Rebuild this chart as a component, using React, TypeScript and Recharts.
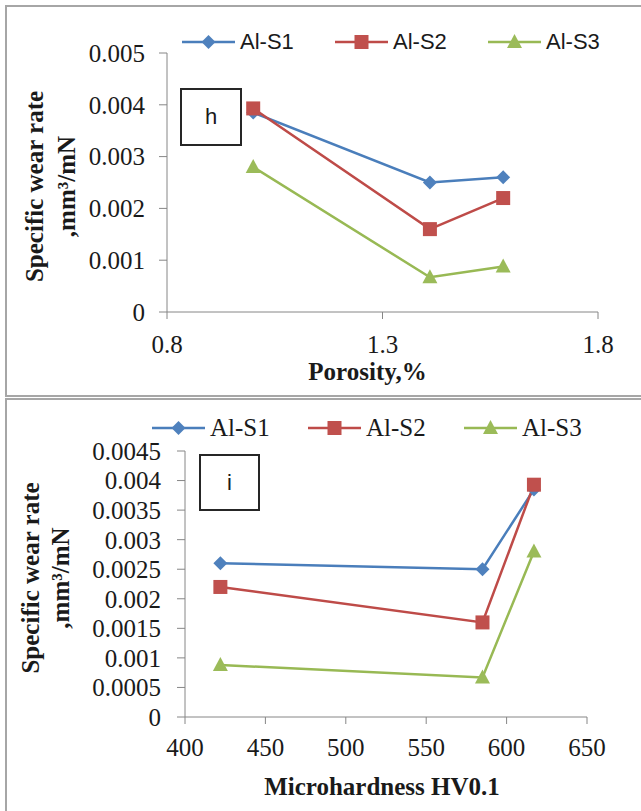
import { LineChart, Line, XAxis, YAxis, Legend } from "recharts"

// values (same three samples in both)
const porosity = [1.0, 1.41, 1.58]
const hardness = [617, 585, 422]
const alS1 = [0.00385, 0.0025, 0.0026]
const alS2 = [0.00393, 0.0016, 0.0022]
const alS3 = [0.0028, 0.00067, 0.00088]

const porosityTicks = [0.8, 1.3, 1.8]
const hardnessTicks = [400, 450, 500, 550, 600, 650]
const rateTicksTop = [0, 0.001, 0.002, 0.003, 0.004, 0.005]
const rateTicksBottom = [0, 0.0005, 0.001, 0.0015, 0.002, 0.0025, 0.003, 0.0035, 0.004, 0.0045]

const series = [
  { key: "s1", name: "Al-S1", line: "#4A7EBB", fill: "#4F81BD", shape: "diamond" },
  { key: "s2", name: "Al-S2", line: "#BE4B48", fill: "#C0504D", shape: "square" },
  { key: "s3", name: "Al-S3", line: "#98B954", fill: "#9BBB59", shape: "triangle" },
]

const topData = porosity.map((x, i) => ({ x, s1: alS1[i], s2: alS2[i], s3: alS3[i] }))
const bottomData = hardness.map((x, i) => ({ x, s1: alS1[i], s2: alS2[i], s3: alS3[i] }))

const SERIF = "Liberation Serif"
const SANS = "Liberation Sans"
const TEXT = "#1a1a1a"
const AXIS = "#868686"

function Marker({ shape, cx, cy, fill }: any) {
  if (cx == null || cy == null) return null
  if (shape === "diamond") {
    return <path d={`M${cx},${cy - 7}L${cx + 7},${cy}L${cx},${cy + 7}L${cx - 7},${cy}Z`} fill={fill} />
  }
  if (shape === "square") {
    return <rect x={cx - 7} y={cy - 7} width={14} height={14} fill={fill} />
  }
  return <path d={`M${cx},${cy - 8}L${cx + 7.5},${cy + 6}L${cx - 7.5},${cy + 6}Z`} fill={fill} />
}

function ChartLegend({ payload, left, step, height, font, size }: any) {
  return (
    <div style={{ position: "relative", height, width: 641 }}>
      {(payload || []).map((entry: any, i: number) => {
        const s = series.find((it) => it.key === entry.dataKey) || series[i]
        return (
          <div
            key={s.key}
            style={{
              position: "absolute",
              left: left + i * step,
              top: 0,
              height: 24,
              display: "flex",
              alignItems: "center",
              whiteSpace: "nowrap",
            }}
          >
            <svg width={53} height={24} style={{ marginRight: 5 }}>
              <line x1={0} y1={12} x2={53} y2={12} stroke={s.line} strokeWidth={2.5} />
              <Marker shape={s.shape} cx={26.5} cy={12} fill={s.fill} />
            </svg>
            <span style={{ fontFamily: font, fontSize: size, color: TEXT, lineHeight: "24px" }}>{entry.value}</span>
          </div>
        )
      })}
    </div>
  )
}

function RateTitle({ viewBox, x1, x2, dy }: any) {
  const cy = viewBox.y + viewBox.height / 2 + dy
  const style = { fontFamily: SERIF, fontWeight: "bold" as const, fontSize: 25, fill: TEXT }
  return (
    <g>
      <text x={x1} y={cy} transform={`rotate(-90, ${x1}, ${cy})`} textAnchor="middle" style={style}>
        Specific wear rate
      </text>
      <text x={x2} y={cy} transform={`rotate(-90, ${x2}, ${cy})`} textAnchor="middle" style={style}>
        ,mm³/mN
      </text>
    </g>
  )
}

function AxisTitle({ viewBox, text, dx, dy }: any) {
  return (
    <text
      x={viewBox.x + viewBox.width / 2 + dx}
      y={viewBox.y + dy}
      textAnchor="middle"
      style={{ fontFamily: SERIF, fontWeight: "bold", fontSize: 25, fill: TEXT }}
    >
      {text}
    </text>
  )
}

function seriesLines() {
  return series.map((s) => (
    <Line
      key={s.key}
      dataKey={s.key}
      name={s.name}
      stroke={s.line}
      strokeWidth={2.5}
      isAnimationActive={false}
      legendType="none"
      dot={(p: any) => <Marker key={`${s.key}-${p.index}`} shape={s.shape} cx={p.cx} cy={p.cy} fill={s.fill} />}
      activeDot={false}
    />
  ))
}

const tickStyle = { fill: TEXT, fontSize: 25, fontFamily: SERIF }
const fmt = (v: number) => String(v)

function Tag({ left, top, width, height, label }: any) {
  return (
    <div
      style={{
        position: "absolute",
        left,
        top,
        width,
        height,
        boxSizing: "border-box",
        border: "2px solid #262626",
        background: "#fff",
        fontFamily: SANS,
        fontSize: 22,
        color: TEXT,
        display: "flex",
        alignItems: "center",
        justifyContent: "center",
      }}
    >
      {label}
    </div>
  )
}

export default function App() {
  return (
    <div
      style={{
        position: "absolute",
        left: 0,
        top: 0,
        width: 641,
        height: 811,
        overflow: "hidden",
        background: "#fff",
      }}
    >
      <div
        style={{
          position: "absolute",
          left: 5,
          top: 5,
          width: 700,
          height: 392,
          boxSizing: "border-box",
          border: "2px solid #a6a6a6",
        }}
      />
      <div
        style={{
          position: "absolute",
          left: 5,
          top: 398,
          width: 700,
          height: 500,
          boxSizing: "border-box",
          border: "2px solid #a6a6a6",
        }}
      />

      <div style={{ position: "absolute", left: 0, top: 0 }}>
        <LineChart width={641} height={400} data={topData} margin={{ top: 30, right: 43, bottom: 0, left: 0 }}>
          <Legend
            verticalAlign="top"
            wrapperStyle={{ left: 0, top: 30, width: 641 }}
            content={(p: any) => (
              <ChartLegend payload={p.payload} left={182} step={153} height={23} font={SANS} size={22} />
            )}
          />
          <XAxis
            dataKey="x"
            type="number"
            domain={[0.8, 1.8]}
            ticks={porosityTicks}
            interval={0}
            tickFormatter={fmt}
            height={88}
            stroke={AXIS}
            tickSize={7}
            tickMargin={16}
            tick={tickStyle}
            label={{ content: (p: any) => <AxisTitle viewBox={p.viewBox} text="Porosity,%" dx={-15} dy={68} /> }}
          />
          <YAxis
            type="number"
            domain={[0, 0.005]}
            ticks={rateTicksTop}
            interval={0}
            tickFormatter={fmt}
            width={167}
            stroke={AXIS}
            tickSize={8}
            tickMargin={14}
            tick={tickStyle}
            label={{ content: (p: any) => <RateTitle viewBox={p.viewBox} x1={43} x2={75} dy={4} /> }}
          />
          {seriesLines()}
        </LineChart>
      </div>

      <div style={{ position: "absolute", left: 0, top: 395 }}>
        <LineChart width={641} height={416} data={bottomData} margin={{ top: 21, right: 54, bottom: 0, left: 0 }}>
          <Legend
            verticalAlign="top"
            wrapperStyle={{ left: 0, top: 21, width: 641 }}
            content={(p: any) => (
              <ChartLegend payload={p.payload} left={152} step={156} height={35} font={SERIF} size={25} />
            )}
          />
          <XAxis
            dataKey="x"
            type="number"
            domain={[400, 650]}
            ticks={hardnessTicks}
            interval={0}
            tickFormatter={fmt}
            height={94}
            stroke={AXIS}
            tickSize={7}
            tickMargin={14}
            tick={tickStyle}
            label={{
              content: (p: any) => <AxisTitle viewBox={p.viewBox} text="Microhardness HV0.1" dx={-4} dy={78} />,
            }}
          />
          <YAxis
            type="number"
            domain={[0, 0.0045]}
            ticks={rateTicksBottom}
            interval={0}
            tickFormatter={fmt}
            width={185}
            stroke={AXIS}
            tickSize={8}
            tickMargin={16}
            tick={tickStyle}
            label={{ content: (p: any) => <RateTitle viewBox={p.viewBox} x1={39} x2={69} dy={-6} /> }}
          />
          {seriesLines()}
        </LineChart>
      </div>

      <Tag left={180} top={88} width={62} height={58} label="h" />
      <Tag left={199} top={454} width={61} height={57} label="i" />
    </div>
  )
}
